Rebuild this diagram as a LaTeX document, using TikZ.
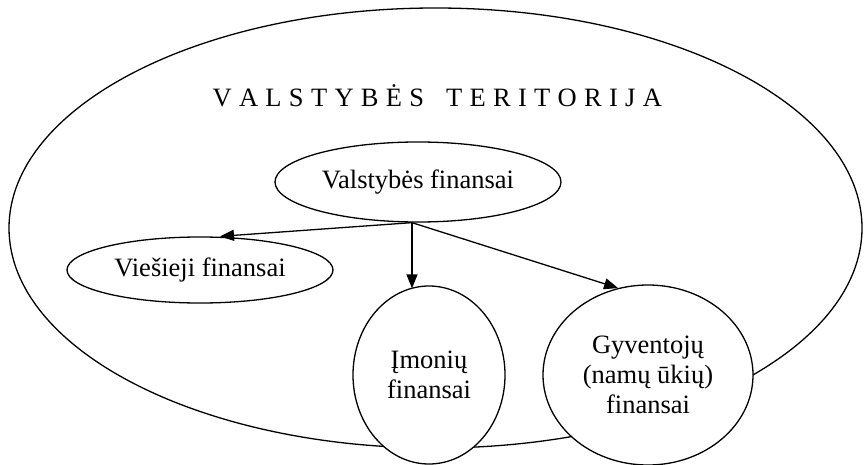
\documentclass[tikz,border=0pt]{standalone}
\usepackage{fontspec}
\setmainfont{Liberation Serif}
\usetikzlibrary{shapes.geometric,arrows.meta,calc}

\begin{document}
\begin{tikzpicture}[x=1pt,y=-1pt,
  line width=1.3pt,
  every node/.style={font=\fontsize{26.5}{30}\selectfont},
  bubble/.style={ellipse,draw,fill=white,inner sep=0pt,align=center},
  arr/.style={-{Triangle[length=14pt,width=11pt]}}]

  \useasboundingbox (0,0) rectangle (864,465);

  % territory outline
  \node[ellipse,draw,inner sep=0pt,minimum width=853pt,minimum height=440pt] (terr) at (435.5,228) {};
  \node[anchor=base west,inner sep=0pt] (title) at (212,107)
    {\spaceskip=7.3pt\relax V A L S T Y B Ė S\ \ \ T E R I T O R I J A};

  % finance sectors
  \node[bubble,minimum width=286pt,minimum height=80pt] (vf) at (418,182) {Valstybės finansai};
  \node[bubble,minimum width=266pt,minimum height=66pt] (vie) at (200,270) {Viešieji finansai};
  \node[bubble,minimum width=152pt,minimum height=178pt] (imo) at (429,375) {Įmonių\\finansai};
  \node[bubble,minimum width=210pt,minimum height=180pt] (gyv) at (648,375) {Gyventojų\\(namų ūkių)\\finansai};

  % flows from state finance
  \coordinate (hub) at ([xshift=-6pt]vf.south);
  \draw[arr] (hub) -- ([xshift=20pt]vie.north);
  \draw[arr] (hub) -- ([yshift=-3pt]hub |- imo.north);
  \draw[arr] (hub) -- (gyv.109);
\end{tikzpicture}
\end{document}
